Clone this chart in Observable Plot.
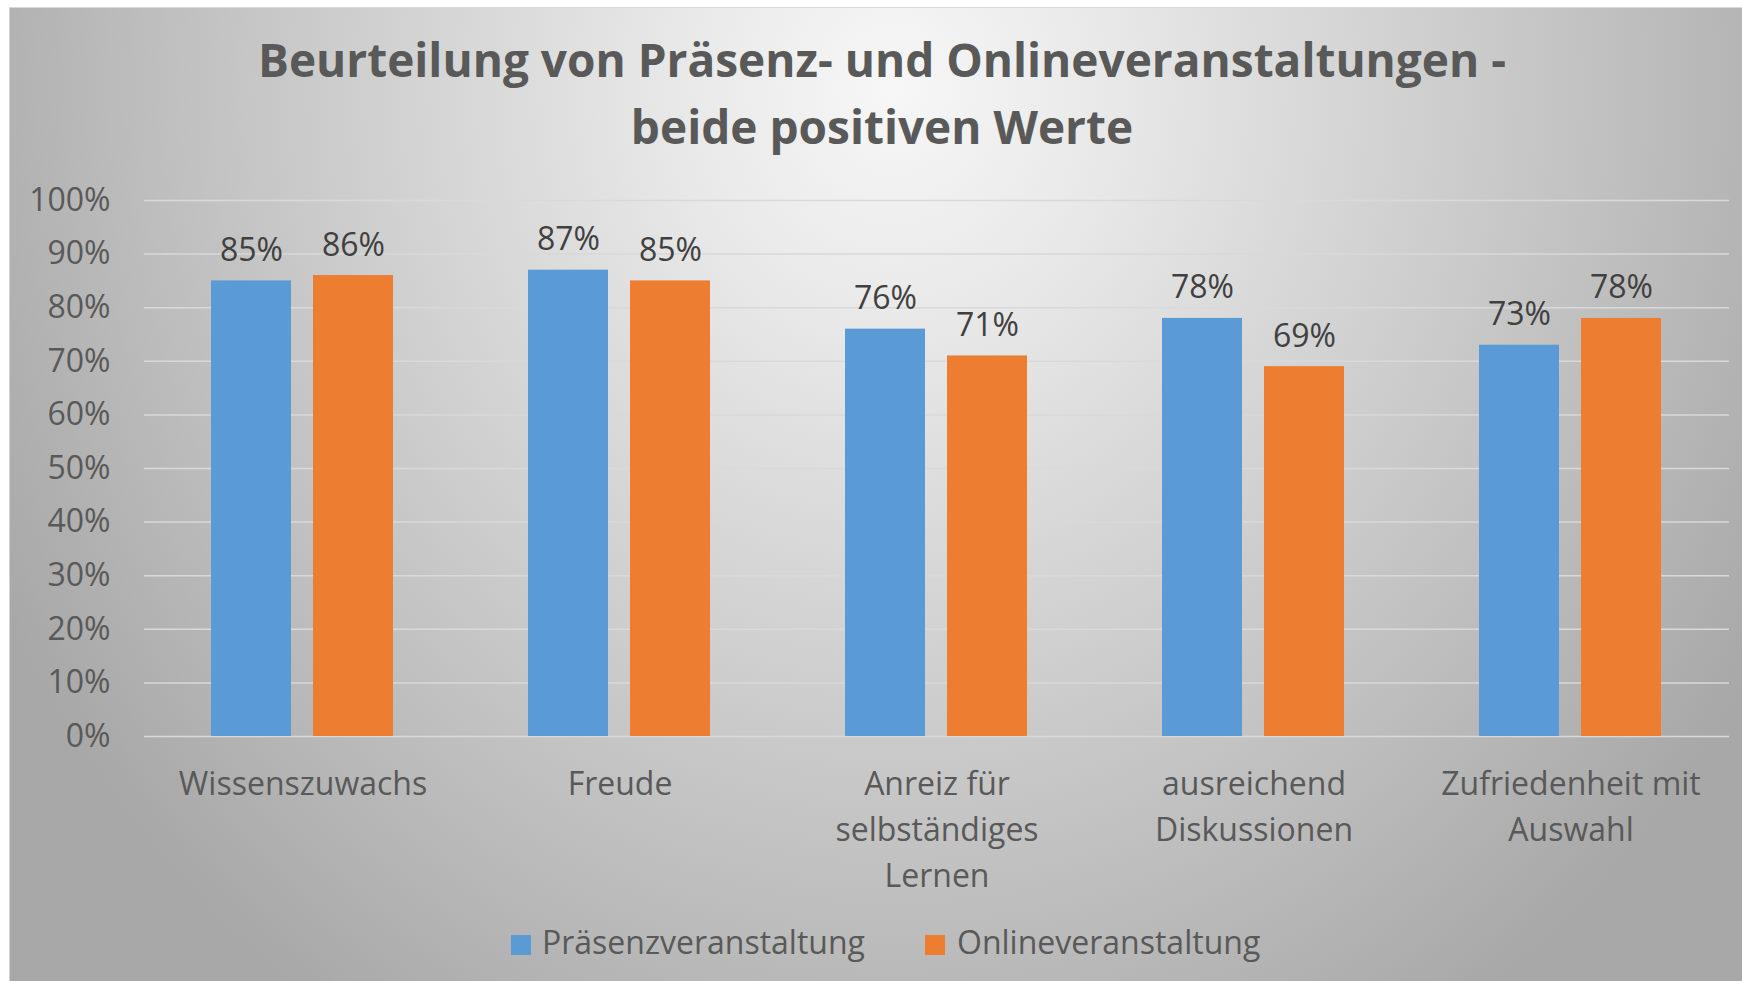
<!DOCTYPE html>
<html>
<head>
<meta charset="utf-8">
<script src="https://cdn.jsdelivr.net/npm/d3@7"></script>
<script src="https://cdn.jsdelivr.net/npm/@observablehq/plot@0.6"></script>
<style>
  html, body { margin: 0; padding: 0; background: #ffffff; }
  body { width: 1742px; height: 981px; position: relative; overflow: hidden; font-family: "Open Sans", sans-serif; }
  #frame {
    position: absolute; left: 9px; top: 7px; width: 1733px; height: 974px;
    border-left: 1px solid #d4d4d4; border-top: 1px solid #d9d9d9; box-sizing: border-box;
    background: radial-gradient(ellipse 58% 115% at 51% 8%, #f7f7f7 0%, #e8e8e8 22%, #d3d3d3 48%, #bdbdbd 75%, #a8a8a8 100%);
  }
  #title {
    position: absolute; left: 0; top: 26px; width: 1764px; text-align: center;
    font-family: "Open Sans", sans-serif; font-weight: 700; font-size: 46px; line-height: 67px; color: #595959;
  }
  #chart { position: absolute; left: 10px; top: 160px; }
  .lg-swatch { position: absolute; width: 20px; height: 20px; top: 935px; }
  .lg-text { position: absolute; top: 926px; font-size: 32px; line-height: 32px; color: #595959; white-space: nowrap; }
</style>
</head>
<body>
<div id="frame"></div>
<div id="title">Beurteilung von Präsenz- und Onlineveranstaltungen -<br>beide positiven Werte</div>
<div id="chart"></div>
<div id="legend"></div>
<script>
// ---- data ----
const categories = ["Wissenszuwachs", "Freude", "Anreiz für selbständiges Lernen", "ausreichend Diskussionen", "Zufriedenheit mit Auswahl"];
const categoryLabels = ["Wissenszuwachs", "Freude", "Anreiz für\nselbständiges\nLernen", "ausreichend\nDiskussionen", "Zufriedenheit mit\nAuswahl"];
const series = ["Präsenzveranstaltung", "Onlineveranstaltung"];
const praesenzValues = [0.85, 0.87, 0.76, 0.78, 0.73];
const onlineValues = [0.86, 0.85, 0.71, 0.69, 0.78];
const seriesColors = ["#5B9BD5", "#ED7D31"];
const yTicks = [0, 0.1, 0.2, 0.3, 0.4, 0.5, 0.6, 0.7, 0.8, 0.9, 1.0];

const valuesBySeries = [praesenzValues, onlineValues];
const table = [];
series.forEach((s, si) => {
  categories.forEach((c, ci) => table.push({category: c, series: s, value: valuesBySeries[si][ci]}));
});
const labelOf = new Map(categories.map((c, i) => [c, categoryLabels[i]]));
const pct = d3.format(".0%");

const chart = Plot.plot({
  width: 1732,
  height: 740,
  marginLeft: 132,
  marginRight: 12,
  marginTop: 40,
  marginBottom: 164,
  style: {background: "transparent", fontFamily: "Open Sans", fontSize: "32px", color: "#595959", overflow: "visible"},
  fx: {domain: categories, padding: 0, label: null},
  x: {domain: series, paddingInner: 0.2136, paddingOuter: 0.6485, axis: null},
  y: {domain: [0, 1], axis: null},
  color: {domain: series, range: seriesColors},
  marks: [
    Plot.gridY(yTicks, {stroke: "#d9d9d9", strokeOpacity: 1, strokeWidth: 1.5}),
    Plot.axisY(yTicks, {tickFormat: pct, tickSize: 0, tickPadding: 34, fontSize: 32, fill: "#595959", label: null}),
    Plot.axisFx({anchor: "bottom", tickFormat: d => labelOf.get(d), tickSize: 0, tickPadding: 26, fontSize: 32, lineHeight: 1.43, lineAnchor: "top", fill: "#595959", label: null}),
    Plot.barY(table, {fx: "category", x: "series", y: "value", fill: "series"}),
    Plot.text(table, {fx: "category", x: "series", y: "value", text: d => pct(d.value), lineAnchor: "bottom", dy: -20, fontSize: 32, fill: "#404040"})
  ]
});
document.getElementById("chart").appendChild(chart);

// ---- legend ----
const legend = document.getElementById("legend");
const legendSwatchX = [511, 925];
const legendTextX = [542, 957];
series.forEach((s, i) => {
  const sw = document.createElement("div");
  sw.className = "lg-swatch";
  sw.style.left = legendSwatchX[i] + "px";
  sw.style.background = seriesColors[i];
  legend.appendChild(sw);
  const t = document.createElement("div");
  t.className = "lg-text";
  t.style.left = legendTextX[i] + "px";
  t.textContent = s;
  legend.appendChild(t);
});
</script>
</body>
</html>
